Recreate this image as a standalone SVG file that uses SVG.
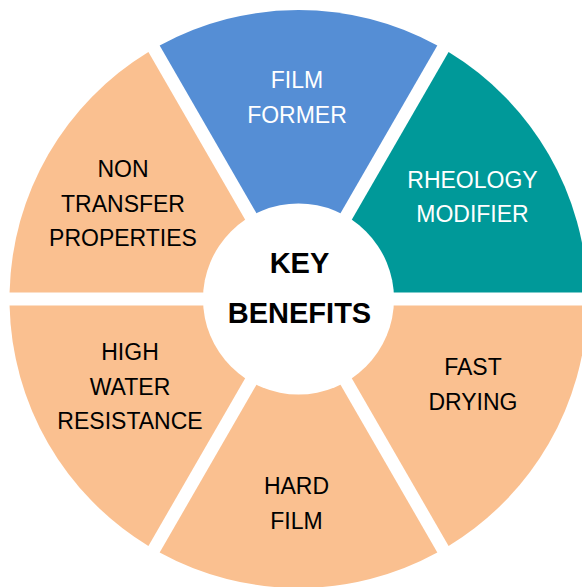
<svg xmlns="http://www.w3.org/2000/svg" width="582" height="587" viewBox="0 0 582 587">
  <defs>
    <path id="wedge" d="M 11.258 -6.5 L 288.927 -6.5 A 289 289 0 0 0 150.093 -246.968 Z"/>
  </defs>
  <style>
    .lbl { font-family: "Comic Sans MS", "Liberation Sans", sans-serif; font-size: 23px; text-anchor: middle; fill: #000000; }
    .wt { fill: #FFFFFF; }
    .center { font-family: "Comic Sans MS", "Liberation Sans", sans-serif; font-size: 29px; font-weight: bold; text-anchor: middle; fill: #000000; }
    .orange { fill: #FAC090; }
    .blue { fill: #558ED5; }
    .teal { fill: #009999; }
  </style>
  <rect width="582" height="587" fill="#FFFFFF"/>
  <g transform="translate(298.5 299)">
    <g id="seg-film-former">
      <use href="#wedge" class="blue" transform="rotate(-60)"/>
    </g>
    <g id="seg-rheology-modifier">
      <use href="#wedge" class="teal"/>
    </g>
    <g id="seg-fast-drying">
      <use href="#wedge" class="orange" transform="rotate(60)"/>
    </g>
    <g id="seg-hard-film">
      <use href="#wedge" class="orange" transform="rotate(120)"/>
    </g>
    <g id="seg-high-water-resistance">
      <use href="#wedge" class="orange" transform="rotate(180)"/>
    </g>
    <g id="seg-non-transfer-properties">
      <use href="#wedge" class="orange" transform="rotate(240)"/>
    </g>
    <g id="center-circle">
      <circle cx="0" cy="0" r="95.5" fill="#FFFFFF"/>
    </g>
  </g>
  <g id="labels">
    <g id="label-film-former">
      <text class="lbl wt" x="297" y="88">FILM</text>
      <text class="lbl wt" x="297" y="122.5">FORMER</text>
    </g>
    <g id="label-rheology-modifier">
      <text class="lbl wt" x="472.5" y="188">RHEOLOGY</text>
      <text class="lbl wt" x="472.5" y="222">MODIFIER</text>
    </g>
    <g id="label-non-transfer">
      <text class="lbl" x="123" y="177">NON</text>
      <text class="lbl" x="123" y="212">TRANSFER</text>
      <text class="lbl" x="123" y="246">PROPERTIES</text>
    </g>
    <g id="label-high-water">
      <text class="lbl" x="130" y="360">HIGH</text>
      <text class="lbl" x="130" y="395">WATER</text>
      <text class="lbl" x="130" y="429">RESISTANCE</text>
    </g>
    <g id="label-hard-film">
      <text class="lbl" x="296.5" y="494">HARD</text>
      <text class="lbl" x="296.5" y="529">FILM</text>
    </g>
    <g id="label-fast-drying">
      <text class="lbl" x="473" y="375">FAST</text>
      <text class="lbl" x="473" y="410">DRYING</text>
    </g>
    <g id="label-key-benefits">
      <text class="center" x="299.5" y="273">KEY</text>
      <text class="center" x="299.5" y="323">BENEFITS</text>
    </g>
  </g>
</svg>
